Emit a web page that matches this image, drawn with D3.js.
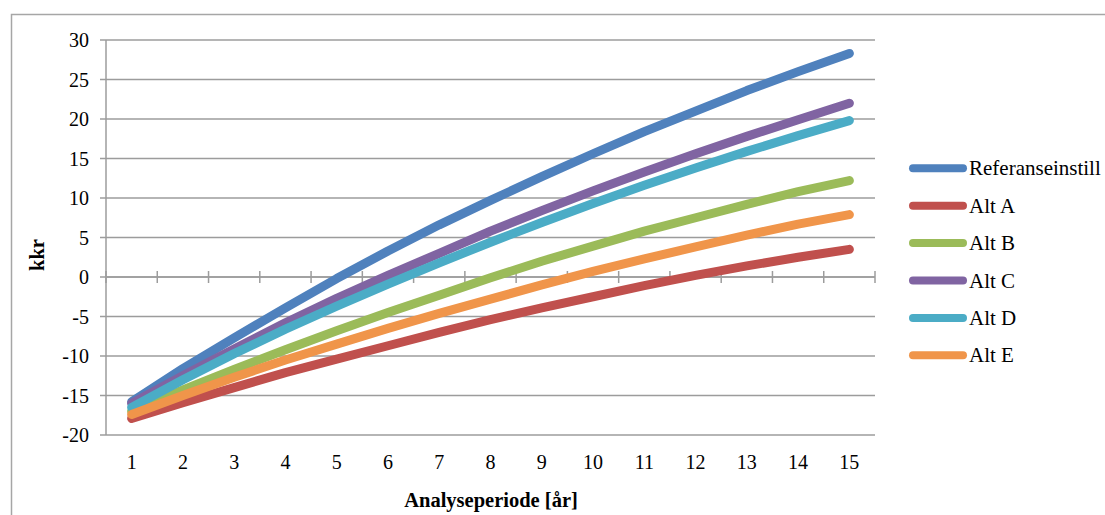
<!DOCTYPE html>
<html><head><meta charset="utf-8">
<script src="https://cdn.jsdelivr.net/npm/d3@7"></script>
<style>body{margin:0;background:#fff}svg{display:block}</style>
</head><body><svg id="c" width="1105" height="515"></svg>
<script>
const categories = [1,2,3,4,5,6,7,8,9,10,11,12,13,14,15];
const seriesNames = ["Referanseinstill","Alt A","Alt B","Alt C","Alt D","Alt E"];
const refValues = [-15.8,-11.6,-7.7,-3.9,-0.2,3.3,6.6,9.7,12.7,15.6,18.4,21.0,23.6,26.0,28.3];
const altA = [-17.9,-15.9,-14.0,-12.1,-10.4,-8.7,-7.0,-5.4,-3.9,-2.5,-1.1,0.2,1.4,2.5,3.5];
const altB = [-17.0,-14.3,-11.7,-9.2,-6.8,-4.5,-2.3,-0.1,2.0,3.9,5.8,7.5,9.2,10.8,12.2];
const altC = [-16.0,-12.5,-9.1,-5.8,-2.7,0.2,3.0,5.8,8.4,10.9,13.3,15.6,17.8,19.9,22.0];
const altD = [-16.5,-13.0,-9.7,-6.6,-3.7,-0.9,1.8,4.4,6.9,9.3,11.6,13.8,15.9,17.9,19.8];
const altE = [-17.4,-15.0,-12.7,-10.5,-8.5,-6.5,-4.6,-2.8,-1.0,0.7,2.3,3.8,5.3,6.7,7.9];
const yTicks = [-20,-15,-10,-5,0,5,10,15,20,25,30];
const colors = ["#4f81bd","#c0504d","#9bbb59","#8064a2","#4bacc6","#f0954a"];

const allSeries = [refValues, altA, altB, altC, altD, altE];
const svg = d3.select("#c");
const font = "'Liberation Serif','Times New Roman',serif";
const grid = "#9c9c9c";

// outer frame
svg.append("rect").attr("x",11.5).attr("y",14.5).attr("width",1200).attr("height",600)
  .attr("fill","none").attr("stroke","#a6a6a6").attr("stroke-width",1.5);

const L = 106, R = 875, T = 40, B = 435;
const x = d3.scaleBand().domain(categories).range([L, R]).padding(0);
const y = d3.scaleLinear().domain([-20, 30]).range([B, T]);

// gridlines with left tick
svg.append("g").selectAll("line").data(yTicks).join("line")
  .attr("x1", L - 6).attr("x2", R)
  .attr("y1", d => y(d)).attr("y2", d => y(d))
  .attr("stroke", grid).attr("stroke-width", 1.5);

// y axis line
svg.append("line").attr("x1",L).attr("x2",L).attr("y1",T).attr("y2",B)
  .attr("stroke",grid).attr("stroke-width",1.5);

// y labels
svg.append("g").selectAll("text").data(yTicks).join("text")
  .attr("x", 89).attr("y", d => y(d) + 7)
  .attr("text-anchor","end").attr("font-family",font).attr("font-size",20)
  .attr("fill","#000").text(d => d);

// x axis at 0 with crossing ticks
const y0 = y(0);
svg.append("line").attr("x1",L).attr("x2",R).attr("y1",y0).attr("y2",y0)
  .attr("stroke",grid).attr("stroke-width",1.5);
const bounds = categories.map(c => x(c)).concat([R]);
svg.append("g").selectAll("line").data(bounds).join("line")
  .attr("x1", d => d).attr("x2", d => d)
  .attr("y1", y0 - 6).attr("y2", y0 + 6)
  .attr("stroke", grid).attr("stroke-width", 1.5);

// x labels
svg.append("g").selectAll("text").data(categories).join("text")
  .attr("x", d => x(d) + x.bandwidth()/2).attr("y", 469)
  .attr("text-anchor","middle").attr("font-family",font).attr("font-size",20)
  .attr("fill","#000").text(d => d);

// axis titles
svg.append("text").attr("transform","translate(44,255) rotate(-90)")
  .attr("text-anchor","middle").attr("font-family",font).attr("font-size",20.5)
  .attr("font-weight","bold").text("kkr");
svg.append("text").attr("x",491).attr("y",507)
  .attr("text-anchor","middle").attr("font-family",font).attr("font-size",20.5)
  .attr("font-weight","bold").text("Analyseperiode [år]");

// series
const line = d3.line().x((d,i) => x(categories[i]) + x.bandwidth()/2).y(d => y(d));
allSeries.forEach((s, k) => {
  svg.append("path").datum(s).attr("d", line)
    .attr("fill","none").attr("stroke", colors[k]).attr("stroke-width", 9)
    .attr("stroke-linecap","round").attr("stroke-linejoin","round");
});

// legend
const lg = svg.append("g");
seriesNames.forEach((n, k) => {
  const yy = 168.3 + k * 37.4;
  lg.append("line").attr("x1", 913).attr("x2", 963).attr("y1", yy).attr("y2", yy)
    .attr("stroke", colors[k]).attr("stroke-width", 8).attr("stroke-linecap","round");
  lg.append("text").attr("x", 969).attr("y", yy + 7)
    .attr("font-family", font).attr("font-size", 21).attr("fill","#000").text(n);
});
</script></body></html>
